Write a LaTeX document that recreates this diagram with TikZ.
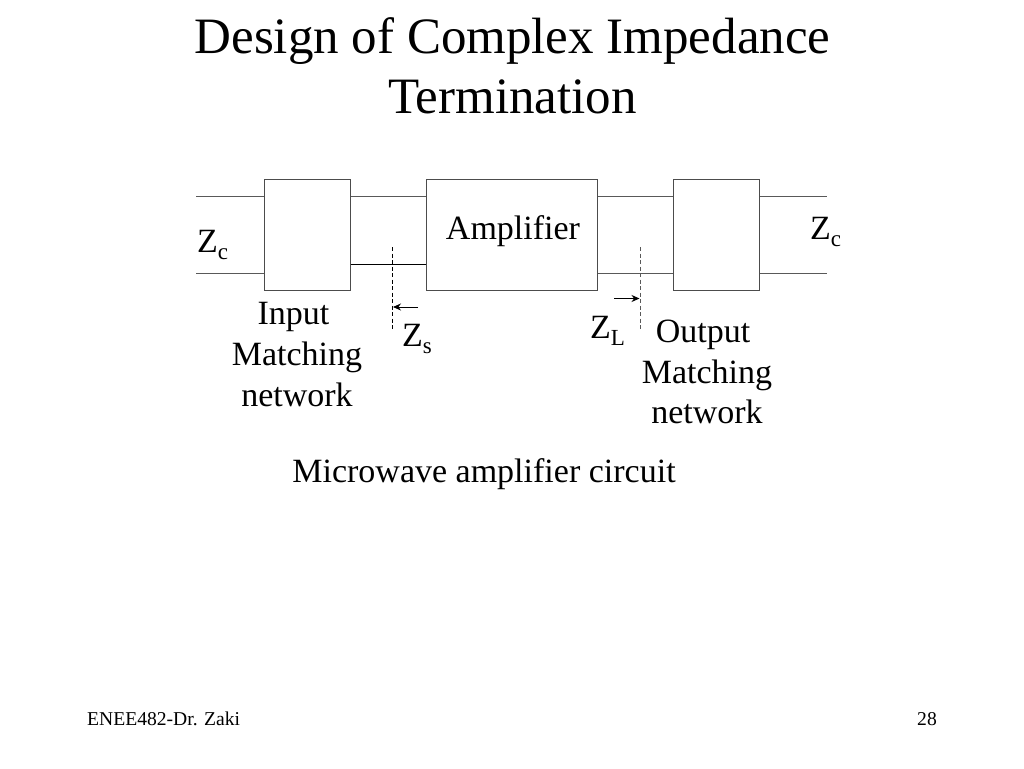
\documentclass[tikz,border=0pt]{standalone}
\usepackage{fontspec}
\usetikzlibrary{arrows.meta}
\setmainfont{Liberation Serif}
\tikzset{
 wire/.style={draw=black!65,line width=1pt},
 darkwire/.style={draw=black,line width=0.9pt},
 block/.style={draw=black!70,line width=1pt,fill=white,inner sep=0pt},
 lab/.style={inner sep=0pt,font=\fontsize{34pt}{34pt}\selectfont,text=black,align=center},
 ttl/.style={inner sep=0pt,font=\fontsize{51pt}{51pt}\selectfont,text=black,anchor=base},
 foot/.style={inner sep=0pt,font=\fontsize{19.6pt}{19.6pt}\selectfont,text=black,anchor=base},
}
\newcommand{\subsc}[1]{\raisebox{-7pt}{\fontsize{23pt}{23pt}\selectfont #1}}
\begin{document}
\begin{tikzpicture}[x=1pt,y=-1pt]
\useasboundingbox (0,0) rectangle (1024,768);
\node[ttl] (t1) at (512.5,53) {Design of Complex Impedance};
\node[ttl] (t2) at (512.5,113) {Termination};
\coordinate (la) at (196,196); \coordinate (lb) at (196,273);
\coordinate (ra) at (827,196); \coordinate (rb) at (827,273);
\coordinate (lc) at (350,264);
\node[block,minimum width=86pt,minimum height=111pt] (inm) at (307,234.5) {};
\node[block,minimum width=171pt,minimum height=111pt] (amp) at (512,234.5) {};
\node[block,minimum width=86pt,minimum height=111pt] (onm) at (716.5,234.5) {};
\draw[wire] (la) -- (la-|inm.west);
\draw[wire] (lb) -- (lb-|inm.west);
\draw[wire] (inm.east|-la) -- (amp.west|-la);
\draw[darkwire] (inm.east|-lc) -- (amp.west|-lc);
\draw[wire] (amp.east|-la) -- (onm.west|-la);
\draw[wire] (amp.east|-lb) -- (onm.west|-lb);
\draw[wire] (onm.east|-ra) -- (ra);
\draw[wire] (onm.east|-rb) -- (rb);
\node[lab,anchor=base] (ampl) at (513,239) {Amplifier};
\node[lab,anchor=base west] (zc1) at (197,252) {Z\subsc{c}};
\node[lab,anchor=base west] (zc2) at (810,239) {Z\subsc{c}};
\node[lab,anchor=base west] (zs) at (402,346) {Z\subsc{s}};
\node[lab,anchor=base west] (zl) at (590,338) {Z\subsc{L}};
\coordinate (d1a) at (392.5,247); \coordinate (d1b) at (392.5,331);
\coordinate (d2a) at (640,247); \coordinate (d2b) at (640,331);
\draw[darkwire,dash pattern=on 4pt off 2.5pt] (d1a) -- (d1b);
\draw[wire,dash pattern=on 4pt off 2.5pt] (d2a) -- (d2b);
\coordinate (a1s) at (418,307); \coordinate (a1e) at (393,307);
\coordinate (a2s) at (614,298.5); \coordinate (a2e) at (639.5,298.5);
\draw[darkwire,-{Stealth[length=8pt,width=7pt]}] (a1s) -- (a1e);
\draw[darkwire,-{Stealth[length=8pt,width=7pt]}] (a2s) -- (a2e);
\node[lab,anchor=base] (inl) at (293.5,324) {Input};
\node[lab,anchor=base] (inl2) at (297,365) {Matching};
\node[lab,anchor=base] (inl3) at (297,406) {network};
\node[lab,anchor=base] (onl) at (703,342) {Output};
\node[lab,anchor=base] (onl2) at (707,383) {Matching};
\node[lab,anchor=base] (onl3) at (707,423) {network};
\node[lab,anchor=base] (cap) at (484,482) {Microwave amplifier circuit};
\node[foot,anchor=base west] (f1) at (87,725) {ENEE482-Dr. Zaki};
\node[foot,anchor=base east] (f2) at (937,725) {28};
\end{tikzpicture}
\end{document}
